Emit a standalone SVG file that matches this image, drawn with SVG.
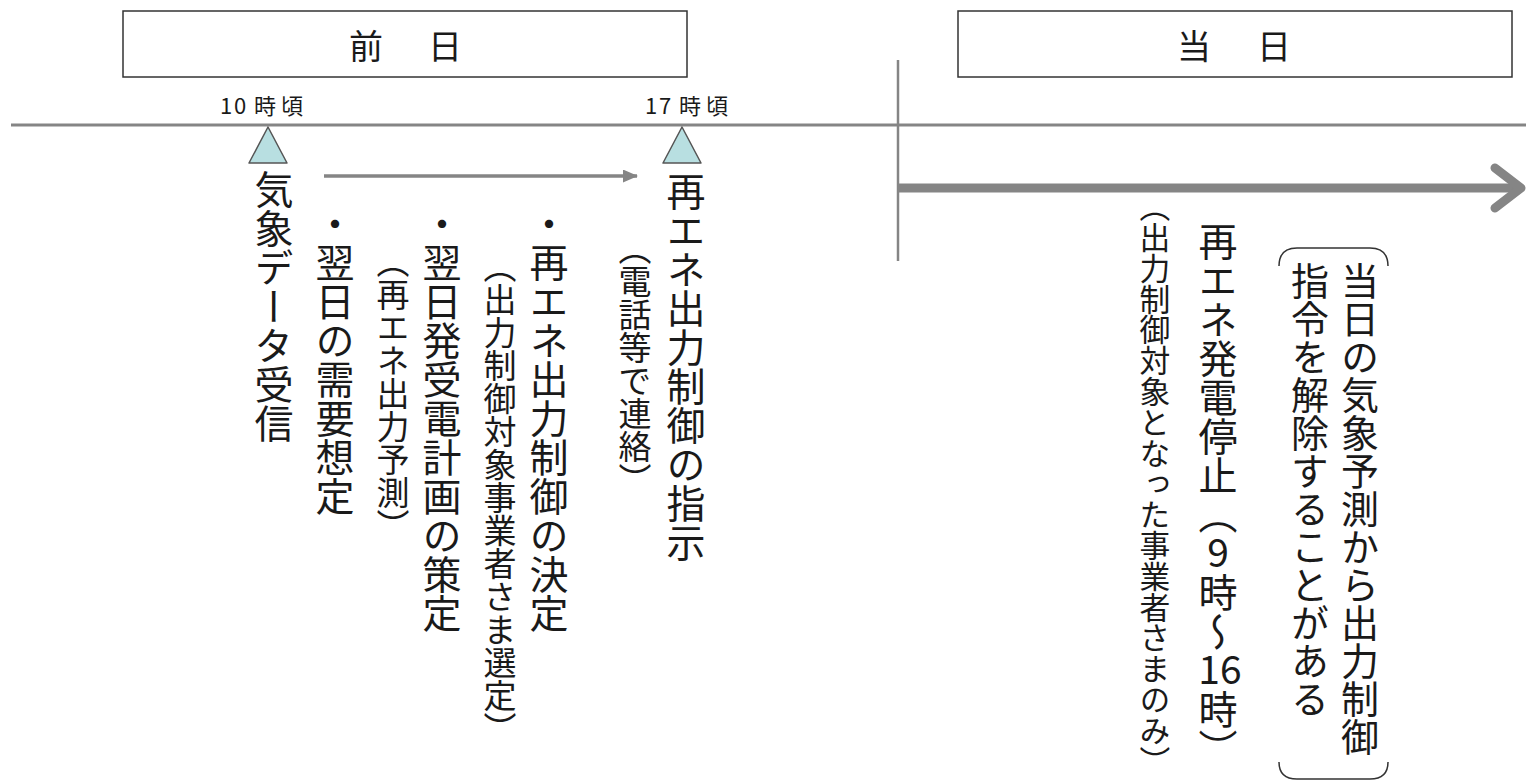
<svg xmlns="http://www.w3.org/2000/svg" width="1526" height="781" viewBox="0 0 1526 781">
<defs>
<style>
.jp{font-family:"Noto Sans CJK JP","Noto Sans CJK SC",sans-serif;fill:#1a1a1a;}
.v{writing-mode:vertical-rl;}
.big{font-size:39px;}
.mid{font-size:38px;}
.small{font-size:33px;}
.small2{font-size:30.8px;}
.hdr{font-size:34px;text-anchor:middle;}
.time{font-size:22px;}
.box{fill:#fff;stroke:#333;stroke-width:1.5;}
.tri{fill:#b8dfe1;stroke:#555;stroke-width:1.5;stroke-linejoin:round;}
.gray{stroke:#858585;fill:none;}
.brk{fill:none;stroke:#333;stroke-width:1.5;}
</style>
<marker id="ah" markerWidth="15" markerHeight="13" refX="14" refY="6.5" orient="auto" markerUnits="userSpaceOnUse">
<path d="M0,0 L15,6.5 L0,13 Z" fill="#858585"/>
</marker>
</defs>
<rect width="1526" height="781" fill="#fff"/>

<g id="connectors">
<line class="gray" x1="11" y1="125" x2="1526" y2="125" stroke-width="3"/>
<line class="gray" x1="898" y1="60" x2="898" y2="261" stroke-width="2.5"/>
<line class="gray" x1="324" y1="176" x2="637" y2="176" stroke-width="3.5" marker-end="url(#ah)"/>
<line class="gray" x1="898" y1="188" x2="1518" y2="188" stroke-width="9"/>
<polyline class="gray" points="1495,168 1521,188 1495,208" stroke-width="9" stroke-linecap="round" stroke-linejoin="round"/>
</g>

<g id="box-zenjitsu">
<rect class="box" x="123" y="11" width="564" height="66"/>
<text class="jp hdr" x="366" y="59">前</text>
<text class="jp hdr" x="445" y="59">日</text>
</g>

<g id="box-tojitsu">
<rect class="box" x="958" y="11" width="554" height="66"/>
<text class="jp hdr" x="1194" y="59">当</text>
<text class="jp hdr" x="1274" y="59">日</text>
</g>

<g id="mark-10">
<text class="jp time" x="220 234 254 281" y="114">10時頃</text>
<polygon class="tri" points="268,127 249,163 287,163"/>
</g>

<g id="mark-17">
<text class="jp time" x="645 659 679 706" y="114">17時頃</text>
<polygon class="tri" points="682,127 663,163 701,163"/>
</g>

<g id="node-kisho">
<text class="jp v big" x="274" y="170">気象データ受信</text>
</g>

<g id="node-juyo">
<text class="jp v big" x="335" y="204">・翌日の需要想定</text>
<text class="jp v small" x="393" y="245">（再エネ出力予測）</text>
</g>

<g id="node-keikaku">
<text class="jp v big" x="442" y="204">・翌日発受電計画の策定</text>
</g>

<g id="node-kettei">
<text class="jp v big" x="549" y="204">・再エネ出力制御の決定</text>
<text class="jp v small" x="500" y="250">（出力制御対象事業者さま選定）</text>
</g>

<g id="node-shiji">
<text class="jp v big" x="686" y="172">再エネ出力制御の指示</text>
<text class="jp v small" x="635" y="232">（電話等で連絡）</text>
</g>

<g id="node-teishi">
<text class="jp v big" x="1218" y="222">再エネ発電停止（</text>
<text class="jp big" x="1218" y="567" text-anchor="middle">9</text>
<text class="jp v big" x="1218" y="573">時〜</text>
<text class="jp big" x="1220" y="684" text-anchor="middle">16</text>
<text class="jp v big" x="1218" y="690">時）</text>
<text class="jp v small2" x="1155" y="191">（出力制御対象となった事業者さまのみ）</text>
</g>

<g id="node-kaijo">
<path class="brk" d="M1279,266 Q1279,248 1297,248 L1370,248 Q1388,248 1388,266"/>
<path class="brk" d="M1279,762 Q1279,779 1297,779 L1370,779 Q1388,779 1388,762"/>
<text class="jp v mid" x="1360" y="262">当日の気象予測から出力制御</text>
<text class="jp v mid" x="1310" y="262">指令を解除することがある</text>
</g>
</svg>
